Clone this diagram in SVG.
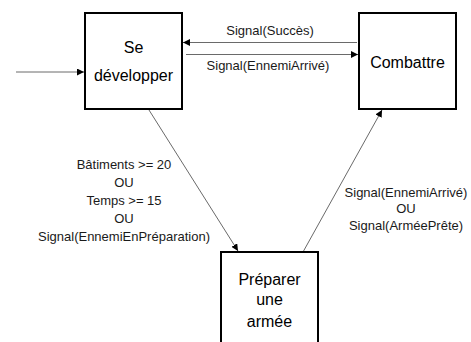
<svg xmlns="http://www.w3.org/2000/svg" width="471" height="342" viewBox="0 0 471 342">
<defs>
<marker id="ah" viewBox="0 0 10 10" refX="10" refY="5" markerWidth="7" markerHeight="7" markerUnits="userSpaceOnUse" orient="auto">
<path d="M0,0 L10,5 L0,10 z" fill="#000"/>
</marker>
<style>
.box{fill:#fff;stroke:#000;stroke-width:2}
.con{stroke:#6a6a6a;stroke-width:1;fill:none;marker-end:url(#ah)}
.lbl{font-family:"Liberation Sans",Arial,sans-serif;font-size:13px;fill:#1a1a1a;text-anchor:middle}
.nt{font-family:"Liberation Sans",Arial,sans-serif;font-size:16px;fill:#000;text-anchor:middle}
</style>
</defs>
<rect width="471" height="342" fill="#fff"/>
<g id="connectors">
<line class="con" x1="16" y1="72" x2="84" y2="72"/>
<line class="con" x1="357" y1="42.5" x2="183" y2="42.5"/>
<line class="con" x1="186" y1="54.5" x2="358" y2="54.5"/>
<line class="con" x1="149" y1="110" x2="238" y2="251"/>
<line class="con" x1="303" y1="252" x2="382" y2="110"/>
<text class="lbl" x="270" y="35">Signal(Succès)</text>
<text class="lbl" x="268" y="70">Signal(EnnemiArrivé)</text>
<text class="lbl" x="124" y="169">Bâtiments &gt;= 20</text>
<text class="lbl" x="124" y="187">OU</text>
<text class="lbl" x="124" y="205">Temps &gt;= 15</text>
<text class="lbl" x="124" y="223">OU</text>
<text class="lbl" x="124" y="241">Signal(EnnemiEnPréparation)</text>
<text class="lbl" x="406" y="197">Signal(EnnemiArrivé)</text>
<text class="lbl" x="406" y="213">OU</text>
<text class="lbl" x="406" y="230">Signal(ArméePrête)</text>
</g>
<g id="se-developper">
<rect class="box" x="85" y="13" width="97" height="96"/>
<text class="nt" x="133.5" y="53">Se</text>
<text class="nt" x="133.5" y="81">développer</text>
</g>
<g id="combattre">
<rect class="box" x="359" y="13" width="97" height="96"/>
<text class="nt" x="407.5" y="68">Combattre</text>
</g>
<g id="preparer-armee">
<rect class="box" x="221" y="252" width="97" height="96"/>
<text class="nt" x="269.5" y="285">Préparer</text>
<text class="nt" x="269.5" y="305">une</text>
<text class="nt" x="269.5" y="327">armée</text>
</g>
</svg>
